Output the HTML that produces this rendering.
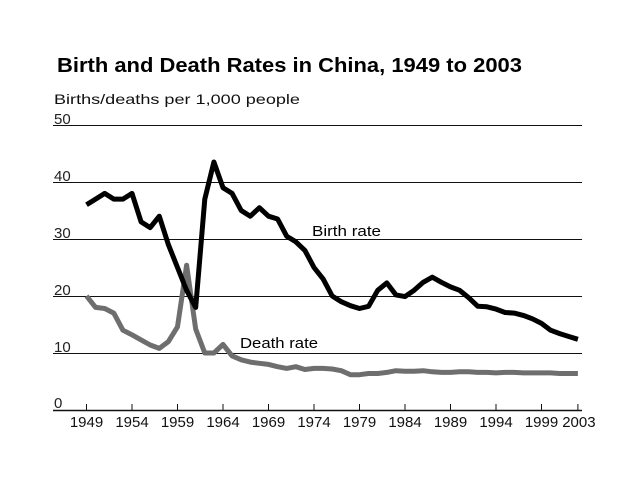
<!DOCTYPE html><html><head><style>body{margin:0;background:#fff}svg{display:block}text{font-family:"Liberation Sans",Arial,sans-serif}</style></head><body>
<svg id="s" width="638" height="478" xmlns="http://www.w3.org/2000/svg">
<text x="57" y="72" font-size="20" font-weight="bold" fill="#000" textLength="465" lengthAdjust="spacingAndGlyphs">Birth and Death Rates in China, 1949 to 2003</text>
<text x="54" y="104" font-size="14" fill="#111" textLength="246" lengthAdjust="spacingAndGlyphs">Births/deaths per 1,000 people</text>
<g stroke="#111" stroke-width="1">
<line x1="53" y1="125.5" x2="582" y2="125.5"/><line x1="53" y1="182.5" x2="582" y2="182.5"/><line x1="53" y1="239.5" x2="582" y2="239.5"/><line x1="53" y1="296.5" x2="582" y2="296.5"/><line x1="53" y1="353.5" x2="582" y2="353.5"/></g>
<line x1="53" y1="410.5" x2="582" y2="410.5" stroke="#111" stroke-width="1.5"/>
<g font-size="15" fill="#222"><text x="54" y="124">50</text><text x="54" y="181">40</text><text x="54" y="238">30</text><text x="54" y="295">20</text><text x="54" y="352">10</text><text x="54" y="408">0</text></g>
<g id="ticks" stroke="#111" stroke-width="1"></g>
<g id="xl" font-size="15" fill="#111" text-anchor="middle"></g>
<polyline id="d" fill="none" stroke="#6e6e6e" stroke-width="5" stroke-linejoin="round"/>
<polyline id="b" fill="none" stroke="#000" stroke-width="5" stroke-linejoin="round"/>
<text x="312" y="236" font-size="15" fill="#000" textLength="69" lengthAdjust="spacingAndGlyphs">Birth rate</text>
<text x="240" y="348" font-size="15" fill="#000" textLength="78" lengthAdjust="spacingAndGlyphs">Death rate</text>
</svg>
<script>
var B=[36,37,38,37,37,38,33,32,34,29,25,21,18,37,43.5,39,38,35,34,35.5,34,33.5,30.5,29.5,28,25,23,20,19,18.3,17.8,18.2,21,22.3,20.2,19.9,21,22.4,23.3,22.4,21.6,21,19.7,18.2,18.1,17.7,17.1,17,16.6,16,15.2,14,13.4,12.9,12.4];
var D=[20,18,17.8,17,14,13.2,12.3,11.4,10.8,12,14.6,25.4,14.2,10,10,11.5,9.5,8.8,8.4,8.2,8,7.6,7.3,7.6,7.1,7.3,7.3,7.2,6.9,6.2,6.2,6.4,6.4,6.6,6.9,6.8,6.8,6.9,6.7,6.6,6.6,6.7,6.7,6.6,6.6,6.5,6.6,6.6,6.5,6.5,6.5,6.5,6.4,6.4,6.4];
function X(i){return 86.5+i*9.1}function Y(v){return 410-v*5.7}
function pts(a){return a.map(function(v,i){return X(i).toFixed(1)+","+Y(v).toFixed(1)}).join(" ")}
document.getElementById("b").setAttribute("points",pts(B));
document.getElementById("d").setAttribute("points",pts(D));
var t="",l="";for(var i=0;i<=54;i+=5){var x=X(i);t+='<line x1="'+x+'" y1="404" x2="'+x+'" y2="410"/>';l+='<text x="'+x+'" y="427">'+(1949+i)+'</text>';}
var x=X(54);t+='<line x1="'+x+'" y1="404" x2="'+x+'" y2="410"/>';l+='<text x="'+(x+1)+'" y="427">2003</text>';
document.getElementById("ticks").innerHTML=t;document.getElementById("xl").innerHTML=l;
</script></body></html>
